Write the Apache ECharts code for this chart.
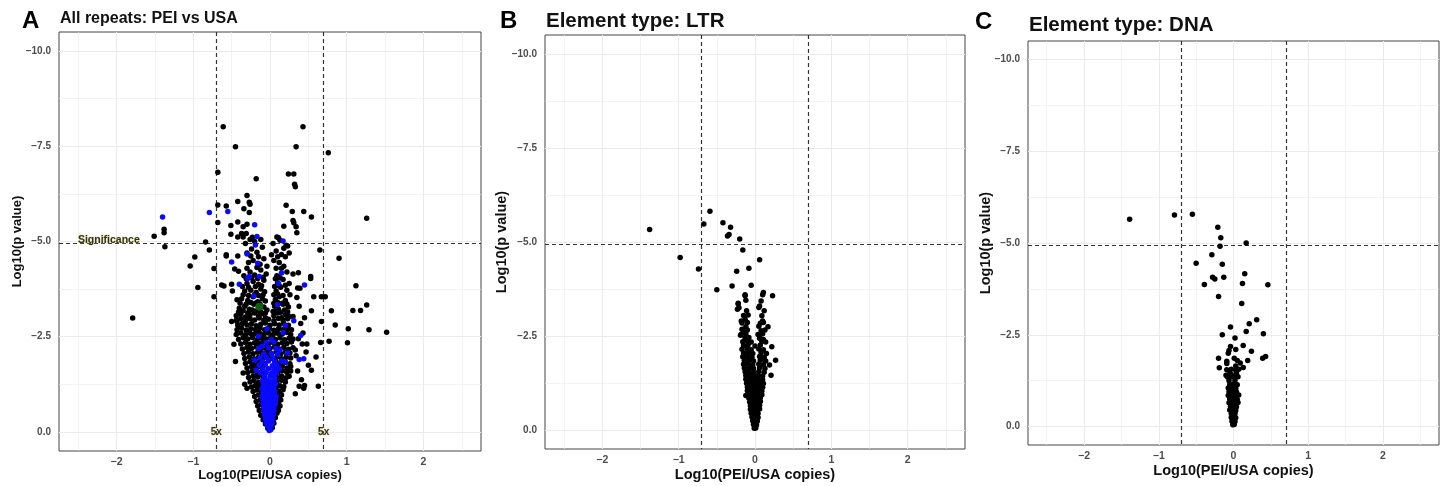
<!DOCTYPE html>
<html><head><meta charset="utf-8">
<script src="https://cdn.jsdelivr.net/npm/echarts@6/dist/echarts.min.js"></script>
<style>html,body{margin:0;padding:0;background:#fff}#c{width:1447px;height:486px}</style>
</head><body><div id="c"></div><script>
// ---------- tick labels / reference values ----------
const xTicks = [-2, -1, 0, 1, 2];
const xMinor = [-2.5, -1.5, -0.5, 0.5, 1.5, 2.5];
const yTicks = [-10, -7.5, -5, -2.5, 0];
const yMinor = [-8.75, -6.25, -3.75, -1.25];
const foldLines = [-0.699, 0.699];
const sigLine = -4.95;
const panelLetters = ['A', 'B', 'C'];
const panelTitles = ['All repeats: PEI vs USA', 'Element type: LTR', 'Element type: DNA'];

// ---------- Panel A: all repeats ----------
const aBlackSparse = [
[-0.61,-8.01],[0.43,-8.01],[-0.45,-7.49],[0.34,-7.49],[0.76,-7.33],[-0.68,-6.82],[0.24,-6.77],[0.31,-6.77],[-0.18,-6.65],[0.32,-6.5],[0.33,-6.44],[-0.30,-6.21],[-0.27,-6.03],[-0.26,-5.98],[-0.42,-6.05],[-0.68,-5.96],[-0.57,-5.93],[0.21,-5.95],[-0.34,-5.86],[-0.27,-5.76],[0.29,-5.79],[0.44,-5.79],[0.54,-5.64],[0.30,-5.55],[0.31,-5.49],[1.26,-5.61],[-0.68,-5.5],[-0.42,-5.51],[-0.30,-5.45],[-0.51,-5.42],[-0.35,-5.39],[-0.37,-5.21],[-0.31,-5.21],[-1.38,-5.32],[-1.38,-5.23],[-1.51,-5.14],[-1.37,-4.86],[-0.84,-4.99],[-0.51,-5.19],[-0.42,-5.12],[-0.35,-5.12],[-0.26,-5.05],[-0.23,-5.11],[0.09,-5.12],[0.13,-5.03],[0.23,-4.88],[0.21,-4.90],[0.34,-5.39],[0.35,-5.23],[0.18,-5.40],[-0.79,-4.78],[-0.98,-4.59],[-1.04,-4.36],[-0.73,-4.29],[-0.94,-3.79],[-0.57,-4.62],[-0.42,-4.62],[-0.46,-4.28],[-0.41,-4.22],[0.65,-4.78],[0.90,-4.56],[1.12,-3.84],[0.37,-4.18],[0.53,-4.08],[0.53,-4.03],[0.39,-3.77],[0.57,-3.55],[0.72,-3.55],[-0.60,-3.83],[-0.63,-3.86],[-0.73,-3.55],[-0.49,-3.70],[-1.79,-2.99],[0.67,-3.55],[0.54,-3.18],[0.80,-3.18],[1.08,-3.19],[1.18,-3.19],[1.26,-3.33],[0.85,-2.81],[0.67,-2.90],[1.02,-2.71],[1.29,-2.68],[1.52,-2.62],[1.01,-2.34],[0.77,-2.38],[0.66,-2.35],[0.60,-1.97],[0.54,-1.62],[0.63,-1.20],[0.44,-1.15],[0.45,-1.22],[0.48,-2.31],[0.42,-2.31],[0.30,-3.03],[0.35,-3.53],[-0.50,-2.90],[-0.43,-2.90],[-0.43,-3.47],[-0.57,-4.65],[-0.50,-3.88],[0.36,-3.78],[0.41,-1.37],[0.47,-2.1],[0.50,-1.75],[-0.47,-2.3],[-0.45,-1.85],[-0.35,-1.55],[0.38,-1.2],[0.33,-1.0],[-0.30,-1.15],[0.43,-2.6],[0.40,-2.85],[0.45,-3.0],[0.38,-3.3],[0.36,-1.6],[0.34,-2.0],[0.37,-2.45],[0.33,-2.15],[-0.33,-1.25]
];
const aBlackMid = [
[-0.34,-4.1],[-0.26,-4.2],[-0.2,-4.12],[-0.12,-4.25],[-0.05,-4.15],[0.09,-4.1],[0.15,-4.3],[0.22,-4.2],[0.3,-4.15],
[-0.28,-4.45],[-0.22,-4.5],[-0.13,-4.4],[-0.08,-4.55],[0.05,-4.5],[0.12,-4.45],[0.2,-4.6],
[-0.3,-4.7],[-0.24,-4.8],[-0.17,-4.72],[-0.1,-4.85],[0.08,-4.75],[0.18,-4.82],[0.25,-4.7],
[-0.32,-4.95],[-0.2,-5.0],[-0.12,-5.05],[0.04,-4.95],[0.11,-5.1],
[-0.44,-3.05],[-0.38,-3.1],[-0.32,-3.02],[-0.26,-3.08],[-0.2,-3.12],[-0.15,-3.05],[-0.1,-3.1],[-0.06,-3.0],[0.05,-3.05],[0.1,-3.12],[0.15,-3.0],[0.2,-3.08],[0.25,-3.03],
[-0.40,-3.25],[-0.33,-3.3],[-0.27,-3.22],[-0.21,-3.35],[-0.08,-3.28],[-0.04,-3.2],[0.06,-3.3],[0.11,-3.22],[0.17,-3.35],[0.24,-3.28],
[-0.37,-3.5],[-0.29,-3.45],[-0.22,-3.55],[-0.16,-3.42],[-0.1,-3.5],[-0.06,-3.44],[0.07,-3.48],[0.12,-3.55],[0.2,-3.45],[0.26,-3.6],
[-0.33,-3.7],[-0.25,-3.72],[-0.18,-3.66],[-0.12,-3.75],[-0.07,-3.68],[0.08,-3.7],[0.14,-3.8],[0.22,-3.72],
[-0.3,-3.9],[-0.22,-3.95],[-0.15,-3.88],[-0.08,-3.98],[0.1,-3.92],[0.17,-4.0],[0.25,-3.9],
[-0.41,-3.15],[-0.35,-3.18],[-0.29,-3.12],[-0.23,-3.2],[-0.17,-3.18],[-0.12,-3.15],[-0.06,-3.12],[0.04,-3.16],[0.09,-3.18],[0.14,-3.14],[0.19,-3.2],[0.23,-3.15],
[-0.39,-3.38],[-0.31,-3.36],[-0.25,-3.4],[-0.19,-3.38],[-0.13,-3.36],[0.05,-3.38],[0.1,-3.4],[0.16,-3.38],[0.22,-3.36],
[-0.35,-3.6],[-0.28,-3.58],[-0.2,-3.6],[-0.15,-3.58],[-0.09,-3.6],[0.05,-3.6],[0.1,-3.62],[0.17,-3.58],
[-0.36,-3.82],[-0.28,-3.8],[-0.19,-3.82],[-0.11,-3.84],[0.06,-3.82],[0.12,-3.84],[0.2,-3.85],
[-0.31,-4.02],[-0.24,-4.05],[-0.16,-4.03],[-0.09,-4.06],[0.07,-4.02],[0.13,-4.05],
[-0.3,-4.3],[-0.17,-4.32],[-0.04,-4.35],[0.08,-4.3],[0.18,-4.35],
[-0.25,-4.62],[-0.15,-4.6],[0.02,-4.65],[0.1,-4.6],[0.15,-4.66]
];
const aBlackCore = [
[-0.44,-2.93],[-0.38,-2.98],[-0.32,-2.92],[-0.26,-2.97],[-0.20,-2.94],[-0.14,-2.99],[-0.08,-2.93],[-0.02,-2.96],[0.05,-2.92],[0.11,-2.98],[0.17,-2.94],[0.23,-2.97],
[-0.42,-2.80],[-0.36,-2.85],[-0.30,-2.81],[-0.24,-2.84],[-0.18,-2.79],[-0.12,-2.83],[-0.06,-2.86],[0.0,-2.80],[0.06,-2.84],[0.12,-2.81],[0.18,-2.85],[0.24,-2.80],
[-0.43,-2.68],[-0.37,-2.72],[-0.31,-2.67],[-0.25,-2.71],[-0.19,-2.69],[-0.13,-2.73],[-0.07,-2.68],[-0.01,-2.72],[0.05,-2.67],[0.11,-2.71],[0.17,-2.69],[0.23,-2.73],[0.28,-2.68],
[-0.44,-2.56],[-0.38,-2.60],[-0.32,-2.55],[-0.26,-2.59],[-0.20,-2.57],[-0.14,-2.61],[-0.08,-2.56],[-0.02,-2.60],[0.04,-2.55],[0.10,-2.59],[0.16,-2.57],[0.22,-2.61],[0.27,-2.56],
[-0.41,-2.43],[-0.35,-2.47],[-0.29,-2.44],[-0.23,-2.48],[-0.17,-2.42],[-0.11,-2.46],[-0.05,-2.44],[0.01,-2.48],[0.07,-2.43],[0.13,-2.47],[0.19,-2.42],[0.25,-2.46],[0.30,-2.44],
[-0.38,-2.31],[-0.32,-2.35],[-0.26,-2.30],[-0.20,-2.34],[-0.14,-2.32],[-0.08,-2.36],[-0.02,-2.31],[0.04,-2.35],[0.10,-2.30],[0.16,-2.34],[0.22,-2.32],[0.28,-2.36],
[-0.36,-2.18],[-0.30,-2.22],[-0.24,-2.19],[-0.18,-2.23],[-0.12,-2.17],[-0.06,-2.21],[0.00,-2.19],[0.06,-2.23],[0.12,-2.18],[0.18,-2.22],[0.24,-2.17],[0.30,-2.21],
[-0.34,-2.06],[-0.28,-2.10],[-0.22,-2.05],[-0.16,-2.09],[-0.10,-2.07],[-0.04,-2.11],[0.02,-2.06],[0.08,-2.10],[0.14,-2.05],[0.20,-2.09],[0.26,-2.07],
[-0.33,-1.93],[-0.27,-1.97],[-0.21,-1.92],[-0.15,-1.96],[-0.09,-1.94],[-0.03,-1.98],[0.03,-1.93],[0.09,-1.97],[0.15,-1.92],[0.21,-1.96],[0.27,-1.94],
[-0.32,-1.80],[-0.26,-1.84],[-0.20,-1.79],[-0.14,-1.83],[-0.08,-1.81],[0.08,-1.84],[0.14,-1.80],[0.20,-1.83],[0.26,-1.79],
[-0.30,-1.68],[-0.24,-1.72],[-0.18,-1.67],[-0.12,-1.71],[0.10,-1.69],[0.16,-1.73],[0.22,-1.68],[0.27,-1.72],
[-0.29,-1.56],[-0.23,-1.60],[-0.17,-1.55],[-0.11,-1.59],[0.10,-1.57],[0.16,-1.61],[0.22,-1.56],[0.27,-1.60],
[-0.28,-1.43],[-0.22,-1.47],[-0.16,-1.44],[-0.10,-1.48],[0.09,-1.43],[0.15,-1.47],[0.21,-1.42],[0.25,-1.46],
[-0.26,-1.31],[-0.21,-1.35],[-0.15,-1.30],[-0.09,-1.34],[0.09,-1.32],[0.15,-1.36],[0.20,-1.31],
[-0.24,-1.18],[-0.19,-1.22],[-0.13,-1.19],[-0.08,-1.23],[0.08,-1.17],[0.13,-1.21],[0.18,-1.19],
[-0.22,-1.06],[-0.17,-1.10],[-0.11,-1.05],[0.08,-1.09],[0.13,-1.07],[0.17,-1.11],
[-0.20,-0.93],[-0.15,-0.97],[-0.10,-0.94],[0.08,-0.98],[0.12,-0.93],[0.15,-0.97],
[-0.18,-0.80],[-0.13,-0.84],[-0.08,-0.81],[0.07,-0.85],[0.11,-0.80],[0.14,-0.84],
[-0.16,-0.68],[-0.11,-0.72],[0.07,-0.69],[0.11,-0.73],[0.13,-0.68],
[-0.14,-0.56],[-0.09,-0.60],[0.06,-0.57],[0.10,-0.61],[0.11,-0.56],
[-0.12,-0.44],[-0.07,-0.48],[0.05,-0.45],[0.09,-0.49],
[-0.09,-0.32],[-0.05,-0.36],[0.04,-0.33],[0.07,-0.37],
[-0.06,-0.21],[0.05,-0.23],[-0.03,-0.10],[0.03,-0.11]
];
const aBlue = [
[-1.40,-5.64],[-0.79,-5.76],[-0.55,-5.79],[-0.20,-5.44],[-0.17,-5.13],[-0.19,-4.91],[0.17,-5.01],[-0.30,-4.67],[-0.16,-4.43],[-0.50,-4.46],[-0.27,-4.08],[-0.14,-4.08],[-0.29,-4.03],[-0.40,-3.88],[0.15,-4.17],[0.11,-3.90],[0.45,-3.86],[-0.21,-3.57],[0.10,-3.34],[0.31,-2.92],[0.20,-2.79],[0.17,-2.61],[0.40,-2.53],[-0.04,-2.71],[-0.15,-2.51],[0.02,-2.42],[0.38,-1.90],[0.44,-1.92],[0.23,-2.07],[0.20,-1.83],[-0.20,-1.88],[-0.18,-1.62],[0.13,-2.15],[-0.10,-2.25],
[-0.01,-0.04],[0.01,-0.06],[-0.03,-0.15],[0.01,-0.14],[-0.05,-0.25],[-0.01,-0.26],[0.03,-0.24],[-0.06,-0.35],[-0.02,-0.36],[0.03,-0.34],
[-0.07,-0.45],[-0.03,-0.46],[0.01,-0.44],[0.04,-0.46],[-0.08,-0.55],[-0.04,-0.56],[0.0,-0.54],[0.05,-0.56],
[-0.08,-0.65],[-0.04,-0.66],[0.0,-0.64],[0.05,-0.66],[-0.09,-0.75],[-0.05,-0.76],[-0.01,-0.74],[0.03,-0.76],[0.07,-0.74],
[-0.09,-0.85],[-0.05,-0.86],[-0.01,-0.84],[0.03,-0.86],[0.07,-0.84],[-0.10,-0.95],[-0.05,-0.96],[0.0,-0.94],[0.05,-0.96],[0.08,-0.94],
[-0.09,-1.05],[-0.04,-1.06],[0.01,-1.04],[0.06,-1.06],[-0.10,-1.15],[-0.05,-1.16],[0.0,-1.14],[0.05,-1.16],
[-0.08,-1.25],[-0.03,-1.26],[0.03,-1.24],[0.07,-1.26],[-0.10,-1.35],[-0.04,-1.36],[0.02,-1.34],[0.06,-1.36],
[-0.07,-1.45],[0.0,-1.46],[0.06,-1.44],[-0.12,-1.55],[-0.05,-1.56],[0.02,-1.54],[0.08,-1.56],
[-0.09,-1.65],[-0.02,-1.66],[0.05,-1.64],[0.12,-1.66],[-0.14,-1.75],[-0.06,-1.76],[0.03,-1.74],[0.09,-1.76],
[-0.10,-1.85],[-0.02,-1.86],[0.06,-1.84],[0.15,-1.86],[-0.13,-1.95],[-0.05,-1.96],[0.04,-1.94],
[-0.08,-2.05],[0.02,-2.06],[0.10,-2.04],[-0.15,-2.2],[-0.02,-2.21],[0.08,-2.19],[-0.05,-2.35],[0.05,-2.36]
];
const aGreen = [[-0.14,-3.29]];

// ---------- Panel B: LTR ----------
const bSparse = [
[-1.38,-5.33],[-0.98,-4.59],[-0.74,-4.28],[-0.67,-5.48],[-0.59,-5.82],[-0.42,-5.51],[-0.32,-5.39],[-0.34,-5.2],[-0.36,-5.16],[-0.2,-5.08],[-0.16,-4.79],[0.06,-4.53],[-0.24,-4.22],[-0.08,-4.3],[-0.3,-3.83],[-0.05,-3.85],[-0.5,-3.73],[0.11,-3.66],[0.23,-3.57],[-0.13,-3.57],[-0.12,-3.45],[-0.22,-3.37],[-0.23,-3.21],[-0.11,-3.17],[0.08,-3.43],[0.12,-3.17],[0.06,-3.3],[-0.18,-2.9],[0.10,-2.9],[0.17,-2.75],[-0.17,-2.68],[-0.19,-2.52],[0.06,-2.5],[0.11,-2.41],[0.22,-2.22],[0.27,-1.86],[0.19,-1.73],[0.21,-1.46],[-0.12,-0.92]
];
const bCore = [
[-0.01,-0.05],[0.01,-0.06],[-0.02,-0.15],[0.02,-0.14],[-0.03,-0.25],[0.0,-0.26],[0.03,-0.24],[-0.04,-0.35],[0.0,-0.36],[0.04,-0.34],
[-0.05,-0.45],[-0.01,-0.46],[0.04,-0.44],[-0.06,-0.55],[-0.02,-0.56],[0.03,-0.54],[0.06,-0.56],[-0.06,-0.65],[-0.02,-0.66],[0.02,-0.64],[0.06,-0.66],
[-0.07,-0.75],[-0.03,-0.76],[0.02,-0.74],[0.07,-0.76],[-0.08,-0.85],[-0.03,-0.86],[0.02,-0.84],[0.07,-0.86],
[-0.09,-0.95],[-0.04,-0.96],[0.01,-0.94],[0.06,-0.96],[0.09,-0.94],[-0.10,-1.05],[-0.05,-1.06],[0.0,-1.04],[0.05,-1.06],[0.09,-1.04],
[-0.10,-1.15],[-0.05,-1.16],[0.0,-1.14],[0.05,-1.16],[0.10,-1.14],[-0.11,-1.25],[-0.06,-1.26],[0.0,-1.24],[0.05,-1.26],[0.11,-1.24],
[-0.12,-1.35],[-0.06,-1.36],[-0.01,-1.34],[0.04,-1.36],[0.10,-1.34],[-0.12,-1.45],[-0.07,-1.46],[-0.02,-1.44],[0.04,-1.46],[0.10,-1.44],
[-0.13,-1.55],[-0.08,-1.56],[-0.02,-1.54],[0.05,-1.56],[0.12,-1.54],[-0.14,-1.65],[-0.08,-1.66],[-0.02,-1.64],[0.06,-1.66],[0.13,-1.64],
[-0.15,-1.75],[-0.09,-1.76],[-0.03,-1.74],[0.05,-1.76],[0.11,-1.74],[-0.14,-1.85],[-0.08,-1.86],[-0.02,-1.84],[0.07,-1.86],[0.14,-1.84],
[-0.16,-1.95],[-0.10,-1.96],[-0.04,-1.94],[0.06,-1.96],[0.12,-1.94],[-0.15,-2.05],[-0.09,-2.06],[-0.03,-2.04],[0.08,-2.06],[0.15,-2.04],
[-0.17,-2.15],[-0.10,-2.16],[-0.05,-2.14],[0.05,-2.16],[0.11,-2.14],[-0.15,-2.25],[-0.09,-2.26],[0.0,-2.24],[0.07,-2.26],
[-0.16,-2.35],[-0.10,-2.36],[-0.05,-2.34],[0.09,-2.36],[0.14,-2.34],[-0.13,-2.45],[-0.08,-2.46],[0.06,-2.44],
[-0.18,-2.55],[-0.12,-2.56],[0.04,-2.54],[0.10,-2.56],[-0.15,-2.65],[-0.10,-2.66],[0.08,-2.64],[0.13,-2.66],
[-0.12,-2.75],[0.05,-2.76],[-0.17,-2.85],[-0.10,-2.86],[0.07,-2.84],[0.11,-2.86],[-0.13,-2.95],
[-0.15,-3.05],[-0.09,-3.06],[0.09,-3.04],[-0.21,-3.25],[0.05,-3.26],[-0.22,-3.35],[-0.13,-3.6],[0.10,-3.6]
];

// ---------- Panel C: DNA ----------
const cSparse = [
[-1.39,-5.65],[-0.79,-5.76],[-0.55,-5.78],[-0.21,-5.43],[-0.17,-5.14],[-0.18,-4.91],[0.17,-5.0],[-0.29,-4.68],[-0.5,-4.45],[-0.15,-4.42],[0.15,-4.16],[-0.28,-4.07],[-0.25,-4.02],[-0.13,-4.07],[-0.39,-3.87],[0.12,-3.9],[0.46,-3.86],[-0.2,-3.54],[0.11,-3.35],[0.31,-2.91],[0.21,-2.8],[-0.04,-2.71],[0.17,-2.59],[0.4,-2.53],[-0.15,-2.5],[0.02,-2.41],[0.13,-2.21],[-0.04,-2.18],[0.24,-2.05],[-0.06,-2.07],[0.03,-2.1],[-0.07,-2.0],[-0.2,-1.86],[0.43,-1.91],[0.39,-1.86],[0.19,-1.8],[-0.19,-1.6],[-0.09,-1.78],[-0.09,-1.72],[0.09,-1.73],[0.13,-1.61],[0.01,-1.86],[0.03,-1.65],[0.05,-1.8],[-0.1,-1.4],[-0.03,-1.42],[0.04,-1.38]
];
const cCore = [
[-0.01,-0.05],[0.01,-0.06],[-0.02,-0.15],[0.02,-0.14],[-0.03,-0.25],[0.01,-0.26],[0.03,-0.24],[-0.03,-0.35],[0.02,-0.36],
[-0.05,-0.45],[-0.01,-0.46],[0.03,-0.44],[-0.04,-0.55],[0.0,-0.56],[0.04,-0.54],[-0.06,-0.65],[-0.02,-0.66],[0.03,-0.64],[0.06,-0.66],
[-0.05,-0.75],[0.0,-0.76],[0.05,-0.74],[-0.07,-0.85],[-0.02,-0.86],[0.03,-0.84],[0.07,-0.86],[-0.06,-0.95],[-0.01,-0.96],[0.04,-0.94],
[-0.07,-1.05],[-0.02,-1.06],[0.03,-1.04],[-0.05,-1.15],[0.0,-1.16],[0.05,-1.14],[-0.06,-1.25],[0.02,-1.26],
[-0.08,-1.35],[-0.03,-1.36],[0.02,-1.34],[0.06,-1.36],[-0.05,-1.45],[0.04,-1.46],[-0.09,-1.55],[-0.03,-1.56],[0.03,-1.54],[0.07,-1.56]
];

// ---------- build ----------
const FONT = '"Liberation Sans", Arial, sans-serif';
const grids = [
  {left: 59, top: 32, width: 422, height: 419},
  {left: 545, top: 35, width: 420, height: 414},
  {left: 1028, top: 41, width: 411, height: 404}
];
const nameGaps = [18, 18, 18.5];
const yNameGaps = [35, 35.5, 35];
const minus = s => s.replace('-', '\u2212');
const xAxes = grids.map((g, i) => ({
  gridIndex: i, type: 'value', min: -2.75, max: 2.75,
  splitLine: {show: false}, axisLine: {show: false},
  axisTick: {show: true, customValues: xTicks, length: 3, lineStyle: {color: '#333', width: 1}},
  axisLabel: {customValues: xTicks, formatter: v => minus(String(v)), color: '#4d4d4d', fontSize: 10.5, fontWeight: 'bold', fontFamily: FONT, margin: 6},
  name: 'Log10(PEI/USA copies)', nameLocation: 'middle', nameGap: nameGaps[i], nameMoveOverlap: false,
  nameTextStyle: {fontWeight: 'bold', fontSize: i === 0 ? 13 : 14.5, color: '#111', fontFamily: FONT}
}));
const yAxes = grids.map((g, i) => ({
  gridIndex: i, type: 'value', min: -10.5, max: 0.5, inverse: true,
  splitLine: {show: false}, axisLine: {show: false},
  axisTick: {show: true, customValues: yTicks, length: 3, lineStyle: {color: '#333', width: 1}},
  axisLabel: {customValues: yTicks, formatter: v => v === 0 ? '0.0' : minus(v.toFixed(1)), color: '#4d4d4d', fontSize: 10, fontWeight: 'bold', fontFamily: FONT, margin: 8},
  name: 'Log10(p value)', nameLocation: 'middle', nameGap: yNameGaps[i], nameMoveOverlap: false,
  nameTextStyle: {fontWeight: 'bold', fontSize: i === 0 ? 13 : 14.5, color: '#111', fontFamily: FONT}
}));

function gridLineSeries(i) {
  const d = [];
  xMinor.forEach(v => d.push({xAxis: v, lineStyle: {width: 0.6}}));
  yMinor.forEach(v => d.push({yAxis: v, lineStyle: {width: 0.6}}));
  xTicks.forEach(v => d.push({xAxis: v, lineStyle: {width: 1.1}}));
  yTicks.forEach(v => d.push({yAxis: v, lineStyle: {width: 1.1}}));
  return {type: 'scatter', xAxisIndex: i, yAxisIndex: i, data: [], z: 1, silent: true,
    markLine: {z: 1, silent: true, symbol: ['none', 'none'], label: {show: false}, animation: false,
      lineStyle: {color: '#ebebeb', type: 'solid'}, data: d}};
}
function threshSeries(i) {
  const d = foldLines.map(v => ({xAxis: v})).concat([{yAxis: sigLine}]);
  return {type: 'scatter', xAxisIndex: i, yAxisIndex: i, data: [], z: 2, silent: true,
    markLine: {z: 2, silent: true, symbol: ['none', 'none'], label: {show: false}, animation: false,
      lineStyle: {color: '#333', type: [4, 3], width: 1.2}, data: d}};
}
function pts(i, data, color, size, z) {
  return {type: 'scatter', xAxisIndex: i, yAxisIndex: i, data: data, symbol: 'circle', symbolSize: size,
    itemStyle: {color: color, opacity: 1}, z: z, silent: true, animation: false};
}
const glow = {color: '#000', fontWeight: 'bold', fontFamily: FONT, textBorderColor: 'rgba(205,195,70,0.55)', textBorderWidth: 1};
const labelSeries = {type: 'scatter', xAxisIndex: 0, yAxisIndex: 0, symbolSize: 0, z: 6, silent: true,
  data: [
    {value: [-2.1, -5.03], label: {show: true, position: 'inside', formatter: 'Significance', fontSize: 10.5, ...glow}},
    {value: [-0.699, 0.0], label: {show: true, position: 'inside', formatter: '5x', fontSize: 10, ...glow}},
    {value: [0.699, 0.0], label: {show: true, position: 'inside', formatter: '5x', fontSize: 10, ...glow}}
  ]};

const series = [];
[0, 1, 2].forEach(i => { series.push(gridLineSeries(i)); series.push(threshSeries(i)); });
series.push(pts(0, aBlackSparse.concat(aBlackMid, aBlackCore), '#000', 5.5, 4));
series.push(pts(0, aBlue, '#0a0aff', 5.5, 5));
series.push(pts(0, aGreen, '#0d5e0d', 8, 5));
series.push(labelSeries);
series.push(pts(1, bSparse.concat(bCore), '#000', 5.5, 4));
series.push(pts(2, cSparse.concat(cCore), '#000', 5.5, 4));

const titlePos = [
  {letter: [22, 9], title: [60, 11], size: 16},
  {letter: [500, 9], title: [546, 11], size: 20.5},
  {letter: [975, 10], title: [1029, 15], size: 20.5}
];
const titles = [];
titlePos.forEach((p, i) => {
  titles.push({text: panelLetters[i], left: p.letter[0], top: p.letter[1], padding: 0, textStyle: {fontSize: 24, fontWeight: 'bold', color: '#000', fontFamily: FONT}});
  titles.push({text: panelTitles[i], left: p.title[0], top: p.title[1], padding: 0, textStyle: {fontSize: p.size, fontWeight: 'bold', color: '#111', fontFamily: FONT}});
});

const chart = echarts.init(document.getElementById('c'), null, {renderer: 'canvas'});
chart.setOption({
  backgroundColor: '#fff',
  animation: false,
  title: titles,
  grid: grids.map(g => Object.assign({show: true, borderColor: '#444', borderWidth: 1, backgroundColor: '#fff', containLabel: false, outerBoundsMode: 'none'}, g)),
  xAxis: xAxes,
  yAxis: yAxes,
  series: series
});
</script></body></html>
